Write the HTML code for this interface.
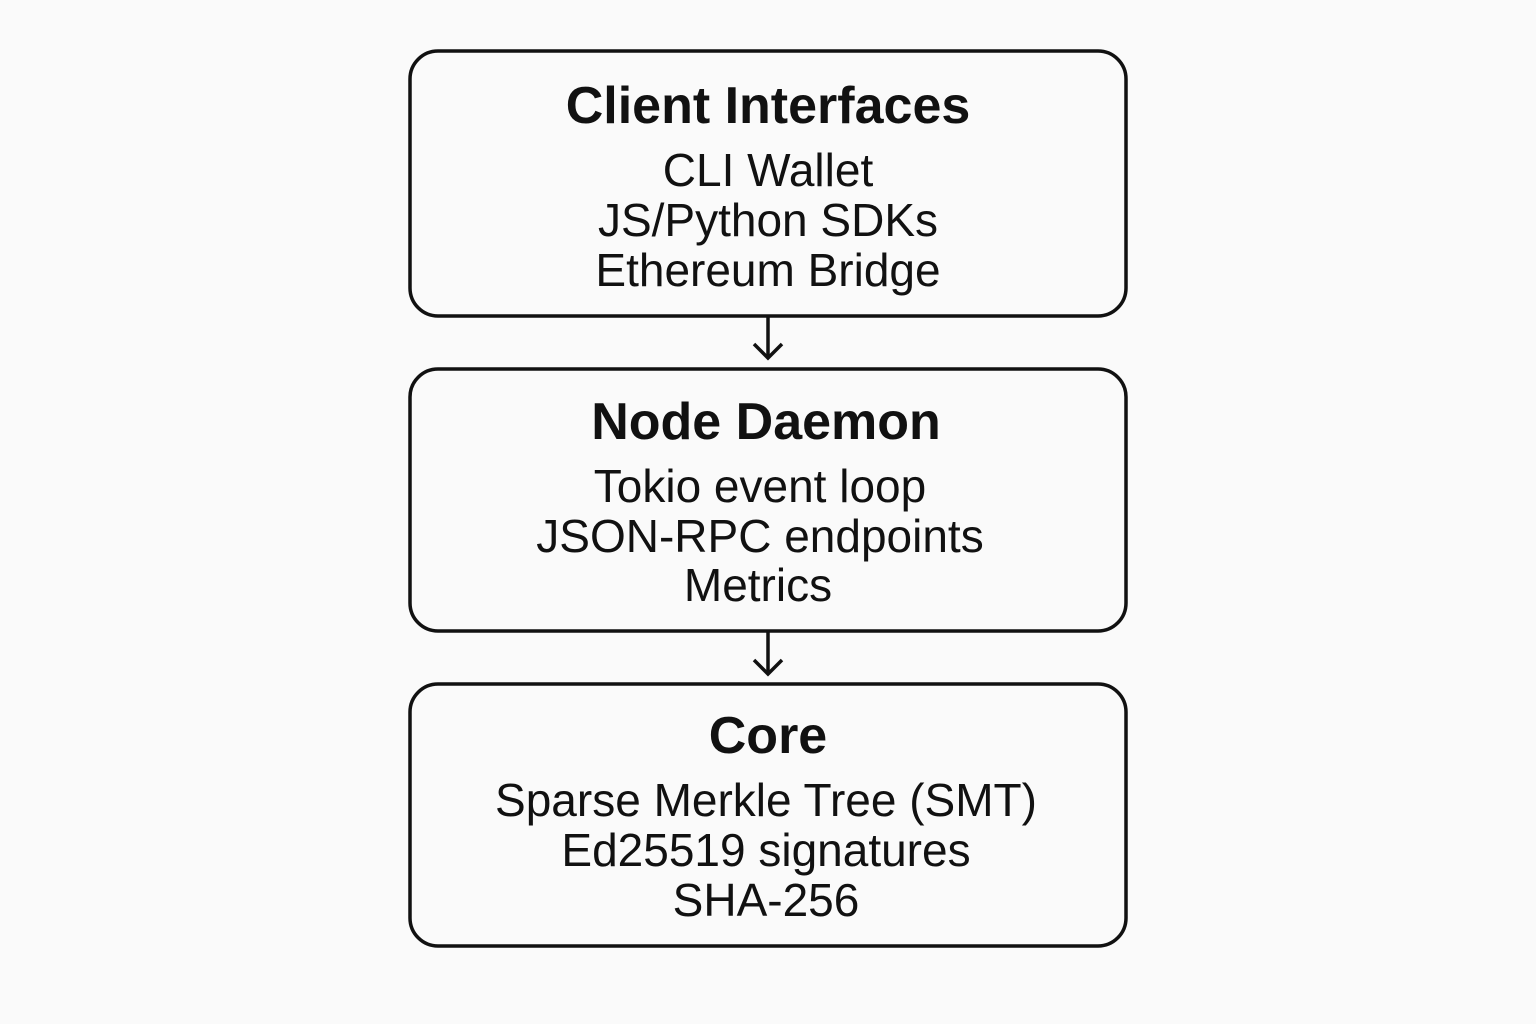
<!DOCTYPE html>
<html><head><meta charset="utf-8"><style>
html,body{margin:0;padding:0;background:#fafafa;}
svg{display:block}
text{font-family:"Liberation Sans",sans-serif;fill:#111;text-anchor:middle}
.t{font-weight:bold;font-size:52px}
.b{font-size:46px}
</style></head><body>
<svg width="1536" height="1024" viewBox="0 0 1536 1024">
<rect width="1536" height="1024" fill="#fafafa"/>
<g fill="none" stroke="#111" stroke-width="3.5">
<rect x="410" y="51" width="716" height="265" rx="28"/>
<rect x="410" y="369" width="716" height="262" rx="28"/>
<rect x="410" y="684" width="716" height="262" rx="28"/>
<line x1="768" y1="317" x2="768" y2="357"/>
<polyline points="754,344 768,358 782,344"/>
<line x1="768" y1="632" x2="768" y2="673"/>
<polyline points="754,660 768,674 782,660"/>
</g>
<text class="t" x="768" y="123">Client Interfaces</text>
<text class="b" x="768" y="186">CLI Wallet</text>
<text class="b" x="768" y="236">JS/Python SDKs</text>
<text class="b" x="768" y="286">Ethereum Bridge</text>
<text class="t" x="766" y="439">Node Daemon</text>
<text class="b" x="760" y="502">Tokio event loop</text>
<text class="b" x="760" y="552">JSON-RPC endpoints</text>
<text class="b" x="758" y="601">Metrics</text>
<text class="t" x="768" y="753">Core</text>
<text class="b" x="766" y="816">Sparse Merkle Tree (SMT)</text>
<text class="b" x="766" y="866">Ed25519 signatures</text>
<text class="b" x="766" y="916">SHA-256</text>
</svg>
</body></html>
